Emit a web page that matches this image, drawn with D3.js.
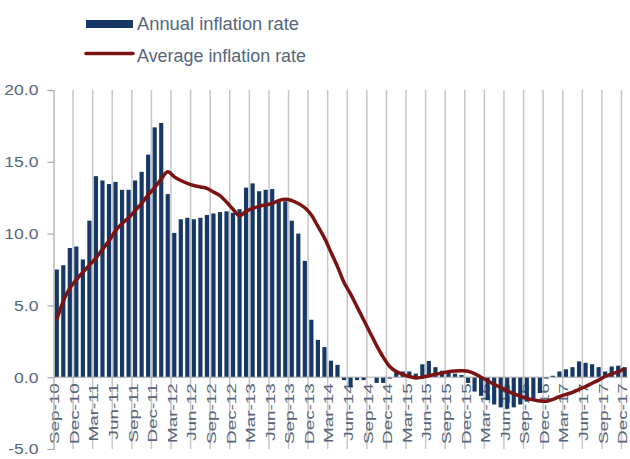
<!DOCTYPE html>
<html><head><meta charset="utf-8">
<script src="https://cdn.jsdelivr.net/npm/d3@7"></script>
<style>
html,body{margin:0;padding:0;background:#fff;}
svg{display:block;}
text{font-family:"Liberation Sans",Arial,sans-serif;}
</style></head>
<body>
<svg id="chart" width="630" height="459"></svg>
<script>
// ---- data ----
const startMonth = new Date(2010, 8, 1);   // Sep-10
const endMonth = new Date(2018, 0, 1);     // up to Dec-17 inclusive
const months = d3.timeMonth.range(startMonth, endMonth);
const fmt = d3.timeFormat("%b-%y");
const categories = months.map(fmt);

const annualRate = [
  7.5, 7.8, 9.0, 9.1, 8.2, 10.9, 14.0, 13.7, 13.45, 13.6, 13.05, 13.05,
  13.7, 14.3, 15.5, 17.4, 17.7, 12.75, 10.05, 11.0, 11.1, 11.0, 11.1, 11.3,
  11.4, 11.5, 11.55, 11.45, 11.7, 13.2, 13.5, 12.95, 13.05, 13.1, 12.2, 12.25,
  10.9, 10.0, 8.1, 4.0, 2.6, 2.1, 1.15, 0.86, -0.2, -0.7, -0.2, -0.2,
  0.0, -0.4, -0.4, -0.1, 0.4, 0.4, 0.4, 0.25, 0.9, 1.13, 0.7, 0.45,
  0.3, 0.25, 0.15, -0.4, -1.0, -1.3, -1.6, -1.9, -2.1, -2.2, -2.1, -1.9,
  -1.7, -1.5, -1.1, -0.1, 0.1, 0.4, 0.55, 0.7, 1.1, 1.0, 0.9, 0.7,
  0.4, 0.75, 0.8, 0.7
];

const averageRate = [
  4.0, 5.3, 6.2, 6.8, 7.3, 7.8, 8.3, 8.9, 9.5, 10.2, 10.7, 11.1,
  11.6, 12.1, 12.7, 13.2, 13.8, 14.3, 13.95, 13.7, 13.5, 13.35, 13.25, 13.15,
  12.9, 12.65, 12.2, 11.7, 11.25, 11.55, 11.75, 11.9, 12.0, 12.1, 12.3, 12.4,
  12.3, 12.1, 11.8, 11.3, 10.5, 9.7, 8.7, 7.7, 6.6, 5.8, 4.9, 4.0,
  3.1, 2.2, 1.4, 0.75, 0.4, 0.2, 0.05, -0.05, 0.0, 0.1, 0.2, 0.3,
  0.38, 0.43, 0.45, 0.42, 0.25, 0.0, -0.25, -0.5, -0.72, -0.95, -1.15, -1.32,
  -1.47, -1.58, -1.65, -1.67, -1.55, -1.35, -1.2, -1.05, -0.85, -0.65, -0.42, -0.2,
  0.05, 0.22, 0.38, 0.6
];

const yTicks = [-5, 0, 5, 10, 15, 20];
const seriesNames = ["Annual inflation rate", "Average inflation rate"];

// ---- layout ----
const svg = d3.select("#chart");
const plotLeft = 53.5, plotRight = 628, plotTop = 90, plotBottom = 449;
const barColor = "#173867", lineColor = "#7c1313", textColor = "#56657a", gridColor = "#c6c6c6";

const x = d3.scaleBand().domain(categories).range([plotLeft, plotRight]).paddingInner(0.36).paddingOuter(0.18);
const y = d3.scaleLinear().domain([-5, 20]).range([plotBottom, plotTop]);
const step = x.step();

// vertical gridlines every 3 months
const gridCats = categories.filter((c, i) => i % 3 === 0 && i > 0);
svg.append("g").selectAll("line").data(gridCats).join("line")
  .attr("x1", d => x(d) - step * x.paddingInner() / 2)
  .attr("x2", d => x(d) - step * x.paddingInner() / 2)
  .attr("y1", plotTop).attr("y2", plotBottom)
  .attr("stroke", gridColor).attr("stroke-width", 1.5);

// x labels (every 3rd month)
const labelCats = categories.filter((c, i) => i % 3 === 0);
svg.append("g").selectAll("text").data(labelCats).join("text")
  .attr("transform", d => `translate(${x(d) + x.bandwidth() / 2 + 2.5},${y(0) + 6}) rotate(-90) scale(1.45,1)`)
  .attr("text-anchor", "end")
  .attr("font-size", 13)
  .attr("fill", textColor)
  .text(d => d);

// bars
svg.append("g").selectAll("rect").data(annualRate).join("rect")
  .attr("x", (d, i) => x(categories[i]))
  .attr("width", x.bandwidth())
  .attr("y", d => y(Math.max(0, d)))
  .attr("height", d => Math.abs(y(d) - y(0)))
  .attr("fill", barColor);

// zero axis line
svg.append("line").attr("x1", plotLeft).attr("x2", plotRight).attr("y1", y(0)).attr("y2", y(0))
  .attr("stroke", "#a9a9a9").attr("stroke-width", 1);

// y axis
const yAxis = svg.append("g").attr("transform", `translate(${plotLeft},0)`)
  .call(d3.axisLeft(y).tickValues(yTicks).tickFormat(d => d.toFixed(1)).tickSize(6).tickPadding(9));
yAxis.select(".domain").attr("stroke", "#a9a9a9").attr("stroke-width", 1.2);
yAxis.selectAll(".tick line").attr("stroke", "#a9a9a9").attr("stroke-width", 1.2);
yAxis.selectAll(".tick text").attr("font-size", 15).attr("fill", textColor)
  .attr("font-family", '"Liberation Sans",Arial,sans-serif')
  .each(function() {
    const w = this.getComputedTextLength();
    d3.select(this).attr("textLength", w * 1.17).attr("lengthAdjust", "spacingAndGlyphs");
  });

// average line
const line = d3.line()
  .x((d, i) => x(categories[i]) + x.bandwidth() / 2)
  .y(d => y(d))
  .curve(d3.curveCatmullRom.alpha(0.5));
svg.append("path").datum(averageRate)
  .attr("d", line)
  .attr("fill", "none")
  .attr("stroke", lineColor)
  .attr("stroke-width", 3.5)
  .attr("stroke-linejoin", "round");

// legend
const legend = svg.append("g");
legend.append("rect").attr("x", 86).attr("y", 20).attr("width", 47).attr("height", 8).attr("fill", barColor);
legend.append("line").attr("x1", 86).attr("x2", 133).attr("y1", 53.5).attr("y2", 53.5)
  .attr("stroke", lineColor).attr("stroke-width", 3.5).attr("stroke-linecap", "round");
legend.selectAll("text").data(seriesNames).join("text")
  .attr("x", 137).attr("y", (d, i) => 30 + i * 32)
  .attr("font-size", 17.5).attr("fill", textColor)
  .attr("textLength", (d, i) => i === 0 ? 162 : 169)
  .attr("lengthAdjust", "spacingAndGlyphs")
  .text(d => d);
</script>
</body></html>
